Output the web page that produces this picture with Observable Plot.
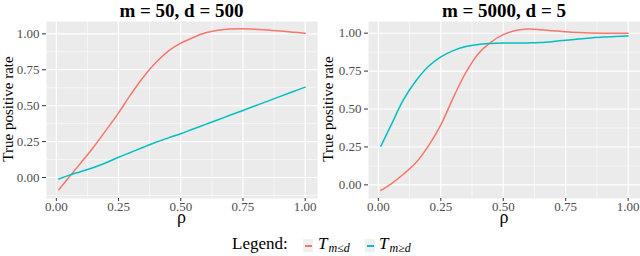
<!DOCTYPE html>
<html><head><meta charset="utf-8">
<script src="https://cdn.jsdelivr.net/npm/d3@7"></script>
<script src="https://cdn.jsdelivr.net/npm/@observablehq/plot@0.6"></script>
<style>
body{margin:0;background:#fff;font-family:"Liberation Serif","Times New Roman",serif;}
#wrap{width:640px;height:256px;position:relative;overflow:hidden;}
.abs{position:absolute;white-space:nowrap;line-height:1;}
.title{font-weight:bold;font-size:19px;color:#000;transform:translateX(-50%);}
.ylab{font-size:15px;color:#000;transform:translate(-50%,-50%) rotate(-90deg);font-family:"Liberation Serif",serif !important;}
.xlab{font-size:18px;color:#000;transform:translateX(-50%);line-height:8px;height:8px;}
.key{width:10px;height:13px;background:#f0f0f0;position:absolute;}
.key i{position:absolute;display:block;left:1.5px;width:7px;top:5.5px;height:2px;}
.lg{font-size:17px;color:#000;}
.lg .T{font-style:italic;}
.lg .s{font-style:italic;font-size:12px;position:relative;top:3px;margin-left:1px;}
svg, svg text, svg g{font-family:"Liberation Serif","Times New Roman",serif !important;}
</style></head>
<body><div id="wrap"></div>
<script>
const rho = [0.01,0.05,0.1,0.15,0.2,0.25,0.3,0.35,0.4,0.45,0.5,0.55,0.6,0.65,0.7,0.75,0.8,0.85,0.9,0.95,1.0];
// panel 1: m = 50, d = 500
const p1Le = [-0.085,0.0,0.105,0.213,0.33,0.45,0.58,0.70,0.80,0.88,0.935,0.975,1.008,1.025,1.033,1.035,1.032,1.026,1.02,1.012,1.004];
const p1Ge = [-0.01,0.015,0.042,0.07,0.103,0.141,0.176,0.211,0.245,0.276,0.305,0.338,0.37,0.402,0.435,0.467,0.5,0.532,0.565,0.597,0.629];
// panel 2: m = 5000, d = 5
const p2Le = [-0.037,0.005,0.07,0.145,0.255,0.395,0.575,0.74,0.865,0.94,0.99,1.018,1.027,1.023,1.016,1.009,1.004,1.001,1.0,1.0,1.0];
const p2Ge = [0.255,0.39,0.56,0.685,0.78,0.844,0.885,0.912,0.926,0.932,0.935,0.936,0.936,0.938,0.945,0.954,0.961,0.968,0.974,0.978,0.982];
const titles = ["m = 50, d = 500","m = 5000, d = 5"];
const seriesNames = ["m≤d","m≥d"];
const colors = ["#F8766D","#00BFC4"];
const majorTicks = [0,0.25,0.5,0.75,1];
const minorX = [0.125,0.375,0.625,0.875];
const minorY1 = [-0.125,0.125,0.375,0.625,0.875];
const minorY2 = [0.125,0.375,0.625,0.875];

function makeTable(a,b){
  const t=[];
  rho.forEach((r,i)=>t.push({rho:r,v:a[i],s:seriesNames[0]}));
  rho.forEach((r,i)=>t.push({rho:r,v:b[i],s:seriesNames[1]}));
  return t;
}
function panel(data, ydom, minorY, mLeft, mRight){
  return Plot.plot({
    width:320, height:210, marginTop:1, marginBottom:32, marginLeft:mLeft, marginRight:mRight,
    style:{fontFamily:"'Liberation Serif', serif", fontSize:"13px", color:"#4d4d4d", background:"transparent", overflow:"visible"},
    x:{domain:[-0.0395,1.0495]},
    y:{domain:ydom},
    color:{domain:seriesNames, range:colors},
    marks:[
      Plot.frame({fill:"#ebebeb", stroke:null}),
      Plot.gridX(minorX,{stroke:"#fff",strokeOpacity:1,strokeWidth:0.55}),
      Plot.gridY(minorY,{stroke:"#fff",strokeOpacity:1,strokeWidth:0.55}),
      Plot.gridX(majorTicks,{stroke:"#fff",strokeOpacity:1,strokeWidth:1.1}),
      Plot.gridY(majorTicks,{stroke:"#fff",strokeOpacity:1,strokeWidth:1.1}),
      Plot.line(data,{x:"rho",y:"v",stroke:"s",z:"s",strokeWidth:1.5,curve:"catmull-rom"}),
      Plot.axisX({ticks:majorTicks,tickFormat:d3.format(".2f"),tickSize:3,tickPadding:0,label:null,stroke:"#333",fontFamily:"Liberation Serif"}),
      Plot.axisY({ticks:majorTicks,tickFormat:d3.format(".2f"),tickSize:4,tickPadding:3,label:null,stroke:"#333",fontFamily:"Liberation Serif"})
    ]
  });
}
const wrap=document.getElementById("wrap");
const cfg=[
  {data:makeTable(p1Le,p1Ge), ydom:[-0.146,1.086], minorY:minorY1, left:0, mLeft:46, mRight:3},
  {data:makeTable(p2Le,p2Ge), ydom:[-0.09,1.077], minorY:minorY2, left:320, mLeft:48, mRight:0}
];
cfg.forEach((c,i)=>{
  const svg=panel(c.data,c.ydom,c.minorY,c.mLeft,c.mRight);
  svg.style.position="absolute"; svg.style.left=c.left+"px"; svg.style.top="20px";
  wrap.appendChild(svg);
  const cx=c.left+(c.mLeft+320-c.mRight)/2;
  const t=document.createElement("div"); t.className="abs title"; t.textContent=titles[i];
  t.style.left=cx+"px"; t.style.top="1px"; wrap.appendChild(t);
  const yl=document.createElement("div"); yl.className="abs ylab"; yl.textContent="True positive rate";
  yl.style.left=(c.left+8)+"px"; yl.style.top="109px"; wrap.appendChild(yl);
  const xl=document.createElement("div"); xl.className="abs xlab"; xl.textContent="ρ";
  xl.style.left=cx+"px"; xl.style.top="212.5px"; wrap.appendChild(xl);
});
// legend
const lg=document.createElement("div"); lg.className="abs lg"; lg.style.left="232px"; lg.style.top="235px";
lg.textContent="Legend:"; wrap.appendChild(lg);
const labs=[[seriesNames[0],303,318],[seriesNames[1],365,379]];
labs.forEach((l,i)=>{
  const k=document.createElement("div"); k.className="key"; k.style.left=l[1]+"px"; k.style.top="239px";
  const d=document.createElement("i"); d.style.background=colors[i]; k.appendChild(d); wrap.appendChild(k);
  const tx=document.createElement("div"); tx.className="abs lg"; tx.style.left=l[2]+"px"; tx.style.top="235px";
  tx.innerHTML='<span class="T">T</span><span class="s">'+l[0]+'</span>'; wrap.appendChild(tx);
});
</script></body></html>
